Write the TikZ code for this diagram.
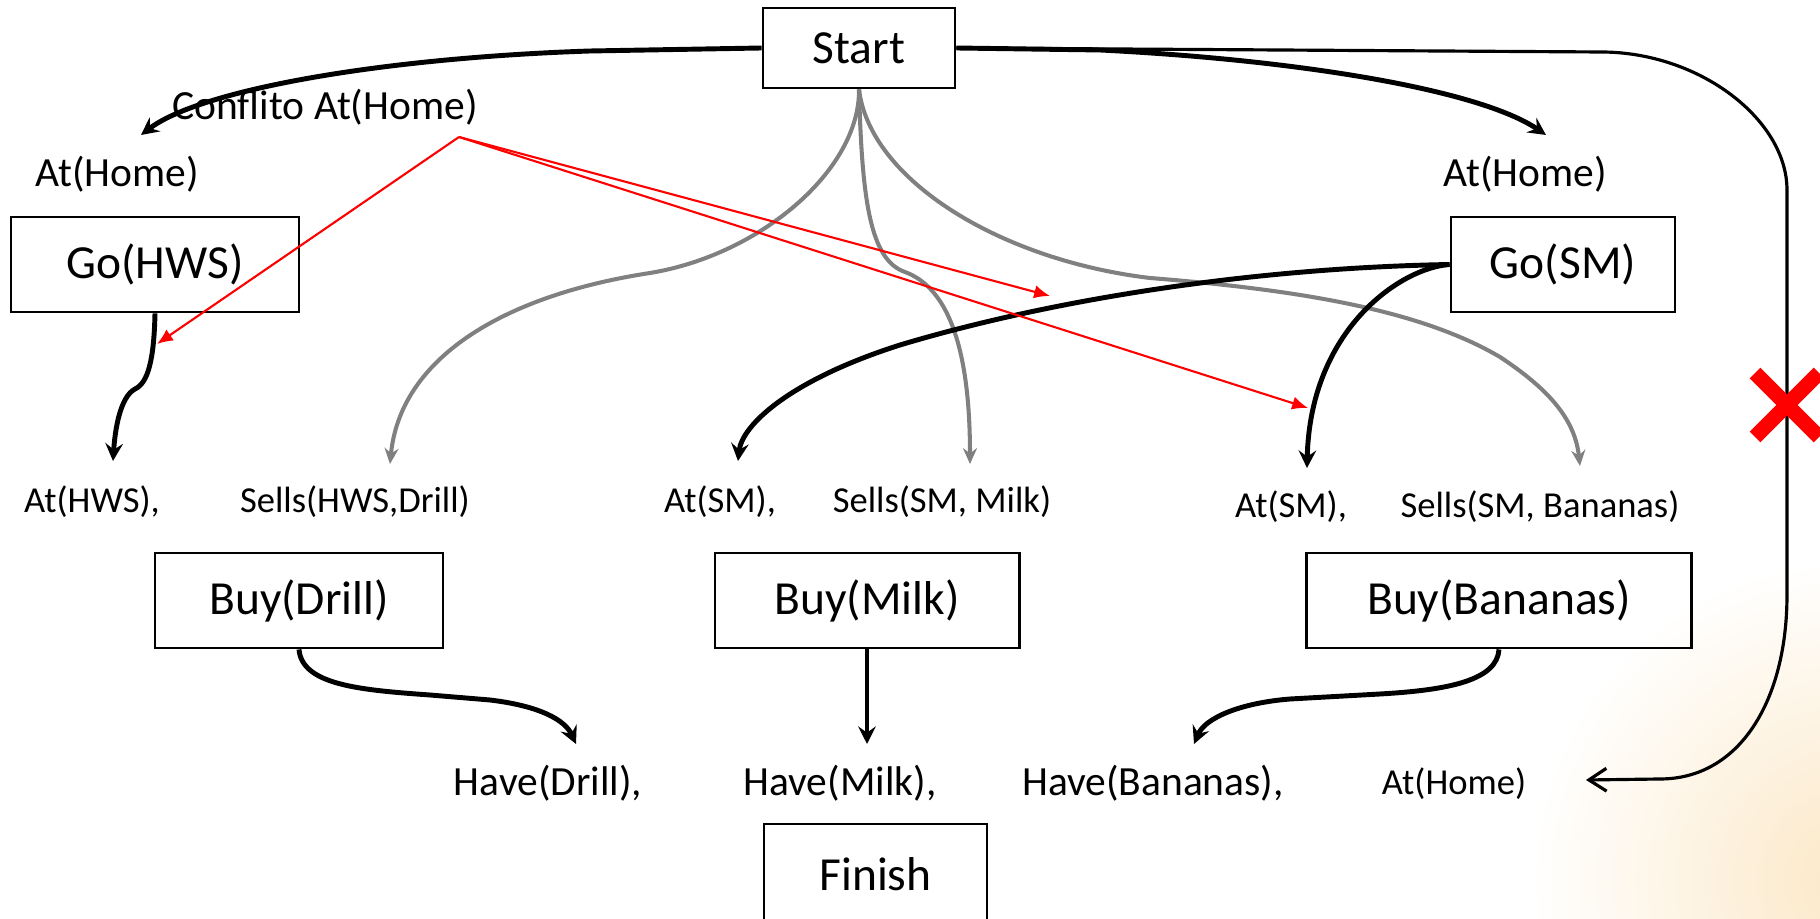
\documentclass[tikz,border=0pt]{standalone}
\usepackage{fontspec}
\setmainfont{Carlito}
\usetikzlibrary{arrows.meta}
\definecolor{lgray}{RGB}{128,128,128}
\definecolor{glow}{RGB}{250,222,175}
\begin{document}
\begin{tikzpicture}[x=0.01cm,y=-0.01cm,
  box/.style={draw, line width=0.8pt, inner sep=0pt, font=\fontsize{13.5}{16}\selectfont},
  lbl/.style={inner sep=0pt, font=\fontsize{11.8}{14}\selectfont},
  sml/.style={inner sep=0pt, font=\fontsize{10.4}{12.5}\selectfont},
  blk/.style={line width=1.4pt, -{Stealth[length=5pt,width=5pt,inset=1.8pt]}},
  gry/.style={draw=lgray, line width=1.15pt, -{Stealth[length=4.5pt,width=4pt,inset=1.5pt]}},
  rln/.style={draw=red, line width=0.6pt, -{Latex[length=4.5pt,width=3.8pt]}},
  loopln/.style={line width=0.9pt, -{Straight Barb[length=5pt,width=6.5pt]}}]
\useasboundingbox (0,0) rectangle (1820,919);
\begin{scope}
\clip (0,0) rectangle (1820,919);
\shade[inner color=glow!70!white, outer color=white] (1850,880) circle[radius=3.2cm];

% boxes
\node[box, minimum width=1.92cm, minimum height=0.80cm] (start) at (859,48) {Start};
\node[box, minimum width=2.88cm, minimum height=0.95cm] (gohws) at (155,264.5) {Go(HWS)};
\node[box, minimum width=2.24cm, minimum height=0.95cm] (gosm) at (1563,264.5) {Go(SM)};
\node[box, minimum width=2.88cm, minimum height=0.95cm] (buydrill) at (299,600.5) {Buy(Drill)};
\node[box, minimum width=3.04cm, minimum height=0.95cm] (buymilk) at (867,600.5) {Buy(Milk)};
\node[box, minimum width=3.84cm, minimum height=0.95cm] (buyban) at (1499,600.5) {Buy(Bananas)};
\node[box, minimum width=2.23cm, minimum height=1.00cm] (finish) at (875.5,874) {Finish};

% condition labels
\node[lbl] (confl) at (325,107) {Conflito At(Home)};
\node[lbl] (homel) at (117,174) {At(Home)};
\node[lbl] (homer) at (1525,174) {At(Home)};
\node[sml] (athws) at (92,502) {At(HWS),};
\node[sml] (sellshws) at (355,502) {Sells(HWS,Drill)};
\node[sml] (atsma) at (720,502) {At(SM),};
\node[sml] (sellsmilk) at (942,502) {Sells(SM, Milk)};
\node[sml] (atsmb) at (1291,507) {At(SM),};
\node[sml] (sellsban) at (1540,507) {Sells(SM, Bananas)};
\node[lbl] (havedrill) at (548,783) {Have(Drill),};
\node[lbl] (havemilk) at (840,783) {Have(Milk),};
\node[lbl] (haveban) at (1153,783) {Have(Bananas),};
\node[sml] (homeend) at (1454,784) {At(Home)};

% arrow end points
\coordinate (tHomeL) at (141,135);
\coordinate (tHomeR) at (1546,135);
\coordinate (tAtHWS) at (113,461);
\coordinate (tSellsHWS) at (390,464);
\coordinate (tAtSMa) at (738,461);
\coordinate (tSellsMilk) at (970,464);
\coordinate (tAtSMb) at (1307,468);
\coordinate (tSellsBan) at (1580,466);
\coordinate (tHaveDrill) at (576,744);
\coordinate (tHaveMilk) at (867,744);
\coordinate (tHaveBan) at (1194,744);
\coordinate (tHomeEnd) at (1586,780);
\coordinate (apex) at (459,137);
\coordinate (r1) at (157,344);
\coordinate (r2) at (1050,296);
\coordinate (r3) at (1308,408);

% grey links from Start
\draw[gry] (start.south) .. controls (860,170) and (760,255) .. (650,273)
  .. controls (500,296) and (400,360) .. (tSellsHWS);
\draw[gry] (start.south) .. controls (862,200) and (870,260) .. (905,272)
  .. controls (940,285) and (970,330) .. (tSellsMilk);
\draw[gry] (start.south) .. controls (870,180) and (1000,260) .. (1150,278)
  .. controls (1300,290) and (1420,310) .. (1500,357)
  .. controls (1550,390) and (1575,420) .. (tSellsBan);

% black links
\draw[blk] (start.west) -- (590,51) .. controls (380,58) and (200,90) .. (tHomeL);
\draw[blk] (start.east) -- (1100,50) .. controls (1300,60) and (1480,90) .. (tHomeR);
\draw[loopln] (start.east) -- (1601,52) .. controls (1700,52) and (1787,120) .. (1787,190)
  -- (1787,595) .. controls (1787,700) and (1740,779) .. (1660,779) -- (tHomeEnd);
\draw[blk] (gohws.south) .. controls (154,360) and (148,383) .. (135,389)
  .. controls (120,397) and (115,430) .. (tAtHWS);
\draw[blk] (gosm.west) .. controls (1250,268) and (1050,300) .. (900,345)
  .. controls (790,380) and (742,425) .. (tAtSMa);
\draw[blk] (gosm.west) .. controls (1400,268) and (1310,330) .. (tAtSMb);
\draw[blk] (buydrill.south) .. controls (302,685) and (360,690) .. (430,695)
  -- (490,700) .. controls (540,706) and (565,720) .. (tHaveDrill);
\draw[blk] (buymilk.south) -- (tHaveMilk);
\draw[blk] (buyban.south) .. controls (1497,680) and (1450,690) .. (1380,694)
  -- (1290,699) .. controls (1240,703) and (1205,718) .. (tHaveBan);

% red conflict arrows
\draw[rln] (apex) -- (r1);
\draw[rln] (apex) -- (r2);
\draw[rln] (apex) -- (r3);

% red cross
\draw[red, line width=4.3pt] (1755,373) -- (1819,437) (1819,373) -- (1755,437);
\end{scope}
\end{tikzpicture}
\end{document}
